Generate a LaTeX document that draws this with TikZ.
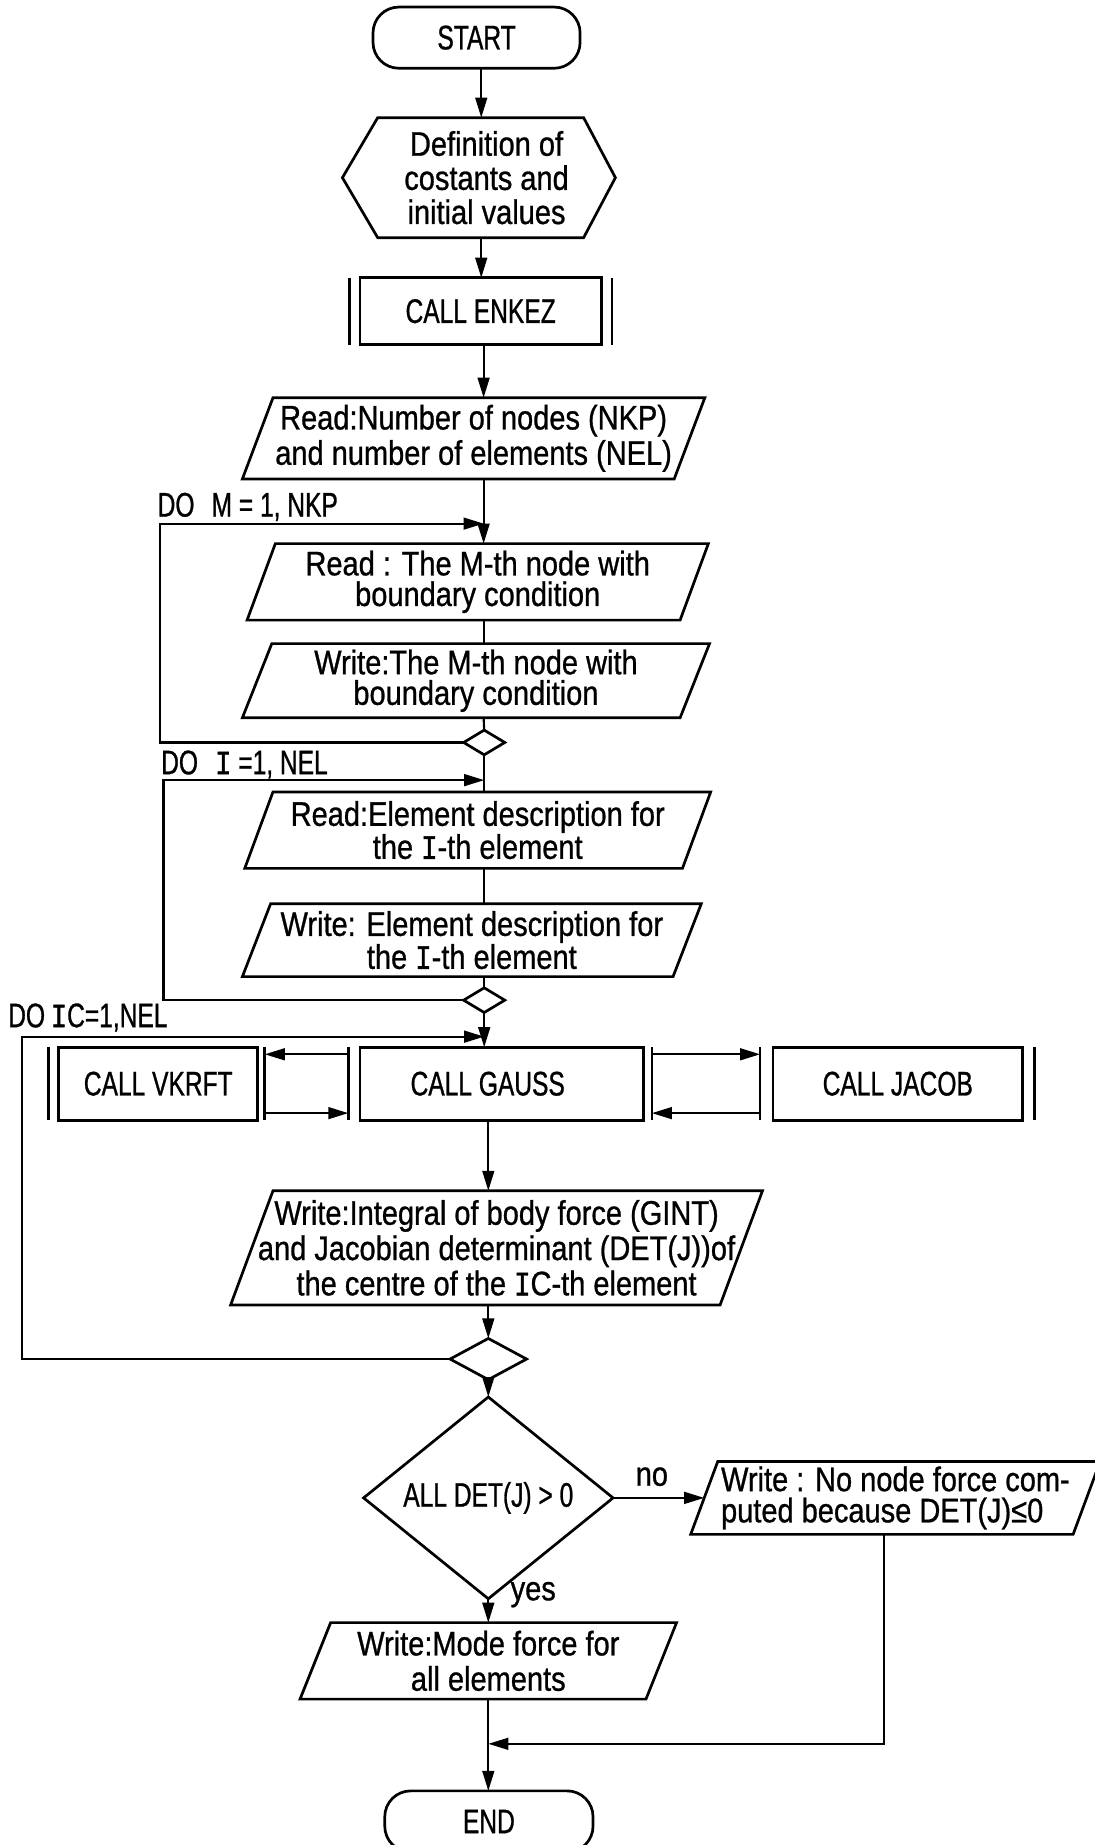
\documentclass[tikz,border=0pt]{standalone}
\usepackage{fontspec}
\setmainfont{Liberation Sans}[FakeStretch=0.85,FakeBold=0.8]
\newfontfamily\capsf{Liberation Sans}[FakeStretch=0.72,FakeBold=0.8]
\newfontfamily\serifI{Liberation Mono}[FakeStretch=0.8,FakeBold=1.2]
\usetikzlibrary{arrows.meta,calc,shapes.geometric}
\newcommand\vI{{\serifI I}}
% parallelogram (input/output) box
\newcommand\iobox[8][]{%
  \node[txt,minimum width=#5pt,minimum height=#6pt,#1] (#2) at (#3,#4) {#8};
  \draw[shp] ([xshift=#7pt]#2.north west) -- ([xshift=#7pt]#2.north east)
     -- ([xshift=-#7pt]#2.south east) -- ([xshift=-#7pt]#2.south west) -- cycle;}
% predefined process box with side bars
\newcommand\callbox[8]{%
  \node[draw,shp,captxt,minimum width=#4pt,minimum height=#5pt] (#1) at (#2,#3) {#8};
  \draw[shp] ([xshift=-#6pt]#1.north west) -- ([xshift=-#6pt]#1.south west);
  \draw[shp] ([xshift=#7pt]#1.north east) -- ([xshift=#7pt]#1.south east);}
\begin{document}
\begin{tikzpicture}[x=1pt,y=-1pt,line width=2.2pt,line join=miter,
  shp/.style={line width=2.3pt},
  conn/.style={line width=1.8pt},
  arr/.style={conn,-{Triangle[length=17pt,width=10pt]}},
  txt/.style={inner sep=0pt,outer sep=0pt,align=center,font=\fontsize{29}{30}\selectfont},
  captxt/.style={inner sep=0pt,outer sep=0pt,align=center,font=\capsf\fontsize{29}{30}\selectfont},
  lab/.style={inner sep=0pt,outer sep=0pt,anchor=base west,font=\capsf\fontsize{29}{30}\selectfont},
  smalldia/.style={draw,shp,diamond,inner sep=0pt,outer sep=0pt}]
\useasboundingbox[fill=white] (0,0) rectangle (930,1568);

% spine coordinates
\coordinate (spA) at (409,0);
\coordinate (spB) at (411,0);
\coordinate (spC) at (415,0);

% START
\node[draw,shp,captxt,rounded corners=22pt,minimum width=176pt,minimum height=52pt] (start) at (405,32) {START};

% definition hexagon
\node[txt,minimum width=175pt,minimum height=102pt,font=\fontsize{29}{29}\selectfont] (hex) at (408.5,151)
  {\hspace*{10pt}Definition of\\\hspace*{10pt}costants and\\\hspace*{10pt}initial values};
\draw[shp] (hex.north west) -- (hex.north east) -- ([xshift=27pt]hex.east) -- (hex.south east)
  -- (hex.south west) -- ([xshift=-30pt]hex.west) -- cycle;

% CALL ENKEZ
\callbox{enkez}{408.5}{264.5}{205}{57}{9}{9}{CALL ENKEZ}

% Read number of nodes
\iobox{read1}{402.5}{372.5}{367}{69}{13}{Read:Number of nodes (NKP)\\and number of elements (NEL)}

% M loop
\iobox[font=\fontsize{29}{26}\selectfont]{readM}{406}{494.5}{368}{65}{12}{Read : The M-th node with\\boundary condition}
\iobox[font=\fontsize{29}{26}\selectfont]{writeM}{404.5}{578.5}{372}{63}{12.5}{Write:The M-th node with\\boundary condition}
\node[smalldia,minimum width=35pt,minimum height=21pt] (dM) at (411.5,631) {};

% I loop
\iobox[font=\fontsize{29}{26}\selectfont]{readI}{406}{705.5}{372}{65}{12}{Read:Element description for\\the \vI-th element}
\iobox[font=\fontsize{29}{26}\selectfont]{writeI}{401}{799}{366}{62}{12}{Write: Element description for\\the \vI-th element}
\node[smalldia,minimum width=35pt,minimum height=21pt] (dI) at (411.5,850) {};

% CALL row
\callbox{vk}{134.5}{921}{169}{62}{9}{6}{CALL VKRFT}
\callbox{ga}{426.5}{921}{241}{62}{10}{7}{CALL GAUSS\hspace*{24pt}}
\callbox{ja}{763}{921}{212}{62}{11}{10}{CALL JACOB}
\coordinate (vkR) at (225,921);
\coordinate (gaL) at (296,921);
\coordinate (gaR) at (554,921);
\coordinate (jaL) at (646,921);

% Write integral
\iobox[font=\fontsize{29}{30}\selectfont]{writeIC}{422}{1060.5}{416}{97}{18}{Write:Integral of body force (GINT)\\and Jacobian determinant (DET(J))of\\the centre of the \vI{}C-th element}
\node[smalldia,minimum width=65pt,minimum height=35pt] (dIC) at (415,1155) {};

% decision
\node[smalldia,captxt,minimum width=212pt,minimum height=124pt] (dec) at (415,1273) {ALL DET(J) > 0};
\iobox[align=left,font=\fontsize{29}{26.5}\selectfont]{writeNo}{761}{1273}{325}{62}{11.5}{Write : No node force com-\\puted because DET(J)≤0}
\iobox{writeMode}{415}{1411.5}{294}{65}{13}{Write:Mode force for\\all elements}

% END
\node[draw,shp,captxt,rounded corners=22pt,minimum width=177pt,minimum height=52pt] (end) at (415.5,1548) {END};

% labels
\node[lab] (lm) at (134,439) {DO\enspace M = 1, NKP};
\node[lab] (li) at (137,658) {DO\enspace\vI{} =1, NEL};
\node[lab] (lic) at (7,873) {DO\,\vI{}C=1,NEL};
\node[txt] (lno) at (554,1255) {no};
\node[txt,anchor=base west] (lyes) at (434,1360) {yes};

% loop corner coordinates
\coordinate (mloop) at (136,445);
\coordinate (iloop) at (139,663);
\coordinate (icloop) at (18.5,881);
\coordinate (retc) at (751,1482);

% main flow
\draw[arr] (start.south -| spA) -- (hex.north -| spA);
\draw[arr] (hex.south -| spA) -- (enkez.north -| spA);
\draw[arr] (enkez.south -| spB) -- (read1.north -| spB);
\draw[arr] (read1.south -| spB) -- (readM.north -| spB);
\draw[conn] (readM.south -| spB) -- (writeM.north -| spB);
\draw[conn] (writeM.south -| spB) -- (dM.north);
\draw[conn] (dM.south) -- (readI.north -| dM);
\draw[conn] (readI.south -| dM) -- (writeI.north -| dM);
\draw[conn] (writeI.south -| dM) -- (dI.north);
\draw[arr] (dI.south) -- (ga.north -| dI);
\draw[arr] (ga.south -| spC) -- (writeIC.north -| spC);
\draw[arr] (writeIC.south -| spC) -- (dIC.north);
\draw[arr] (dIC.south) -- (dec.north);
\draw[arr] (dec.east) -- (writeNo.west);
\draw[arr] (dec.south) -- (writeMode.north);
\draw[arr] (writeMode.south -| spC) -- (end.north -| spC);
\draw[arr] (writeNo.south -| retc) -- (retc) -- (retc -| spC);

% loops
\draw[arr] (dM.west) -| (mloop) -- (mloop -| spB);
\draw[arr] (dI.west) -| (iloop) -- (iloop -| dM);
\draw[arr] (dIC.west) -| (icloop) -- (icloop -| dI);

% subroutine connections
\draw[arr] ($(gaL)+(0,-25)$) -- ($(vkR)+(0,-25)$);
\draw[arr] ($(vkR)+(0,25)$) -- ($(gaL)+(0,25)$);
\draw[arr] ($(gaR)+(0,-25)$) -- ($(jaL)+(0,-25)$);
\draw[arr] ($(jaL)+(0,25)$) -- ($(gaR)+(0,25)$);
\end{tikzpicture}
\end{document}
